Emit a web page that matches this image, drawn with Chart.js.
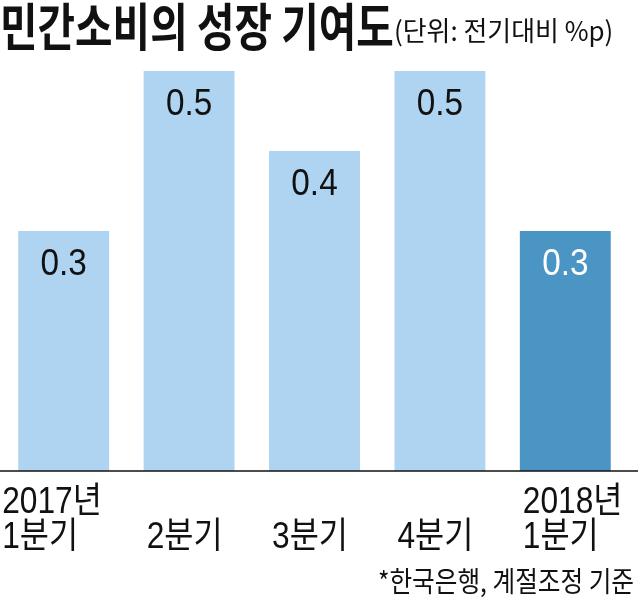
<!DOCTYPE html>
<html>
<head>
<meta charset="utf-8">
<script src="https://cdn.jsdelivr.net/npm/chart.js@4"></script>
<style>
  html, body { margin: 0; padding: 0; background: #fff; }
  #wrap { width: 638px; height: 603px; position: relative; }
</style>
</head>
<body>
<div id="wrap"><canvas id="chart"></canvas></div>
<script>
// ===== Data =====
const titleText = '민간소비의 성장 기여도';
const unitText = '(단위: 전기대비 %p)';
const noteText = '*한국은행, 계절조정 기준';
const quarters = [['2017년', '1분기'], ['2분기'], ['3분기'], ['4분기'], ['2018년', '1분기']];
const values = [0.3, 0.5, 0.4, 0.5, 0.3];
const barColors = ['#aed4f1', '#aed4f1', '#aed4f1', '#aed4f1', '#4a95c4'];
const valueColors = ['#111', '#111', '#111', '#111', '#fff'];

// draw text squeezed horizontally (the original uses a condensed face)
function squeezeText(ctx, text, x, y, sx, align) {
    ctx.save();
    ctx.translate(x, y);
    ctx.scale(sx, 1);
    ctx.textAlign = align || 'left';
    ctx.fillText(text, 0, 0);
    ctx.restore();
}

const textPlugin = {
    id: 'textPlugin',
    afterDraw(chart) {
        const ctx = chart.ctx;
        const meta = chart.getDatasetMeta(0);
        const y0 = chart.scales.y.getPixelForValue(0);

        // baseline across the whole width
        ctx.save();
        ctx.strokeStyle = '#111';
        ctx.lineWidth = 1.5;
        ctx.beginPath();
        ctx.moveTo(0, y0);
        ctx.lineTo(chart.width, y0);
        ctx.stroke();

        // value labels inside bars
        ctx.font = '37px "Liberation Sans", Arial, sans-serif';
        ctx.textBaseline = 'alphabetic';
        meta.data.forEach((bar, i) => {
            ctx.fillStyle = valueColors[i];
            squeezeText(ctx, values[i].toFixed(1), bar.x, bar.y + 44, 0.9, 'center');
        });

        // category labels under the axis
        ctx.fillStyle = '#111';
        ctx.font = '36px "Liberation Sans", "Noto Sans CJK KR", sans-serif';
        meta.data.forEach((bar, i) => {
            const left = bar.x - bar.width / 2;
            const lx = i === 0 ? left - 16 : left + 3;
            const lines = quarters[i];
            const bottom = y0 + 77;
            lines.forEach((ln, k) => {
                const ly = bottom - (lines.length - 1 - k) * 35;
                squeezeText(ctx, ln, lx, ly, 0.88, 'left');
            });
        });

        // title and unit
        ctx.textBaseline = 'middle';
        ctx.font = 'bold 51px "Noto Sans CJK KR", sans-serif';
        squeezeText(ctx, titleText, 0, 27, 0.8, 'left');
        ctx.font = '27px "Noto Sans CJK KR", sans-serif';
        squeezeText(ctx, unitText, 394, 31, 0.96, 'left');

        // source note
        ctx.font = '28px "Noto Sans CJK KR", sans-serif';
        squeezeText(ctx, noteText, 634, 581, 0.88, 'right');
        ctx.restore();
    }
};

chart = new Chart(document.getElementById('chart').getContext('2d'), {
    type: 'bar',
    data: {
        labels: quarters.map(q => q.join(' ')),
        datasets: [{
            data: values,
            backgroundColor: barColors,
            borderWidth: 0,
            barPercentage: 0.725,
            categoryPercentage: 1
        }]
    },
    options: {
        responsive: true,
        maintainAspectRatio: false,
        animation: false,
        layout: { padding: { top: 71, bottom: 132, left: 1, right: 10 } },
        plugins: { legend: { display: false }, tooltip: { enabled: false } },
        scales: {
            x: { display: false },
            y: { display: false, min: 0, max: 0.5 }
        }
    },
    plugins: [textPlugin]
});
</script>
</body>
</html>
